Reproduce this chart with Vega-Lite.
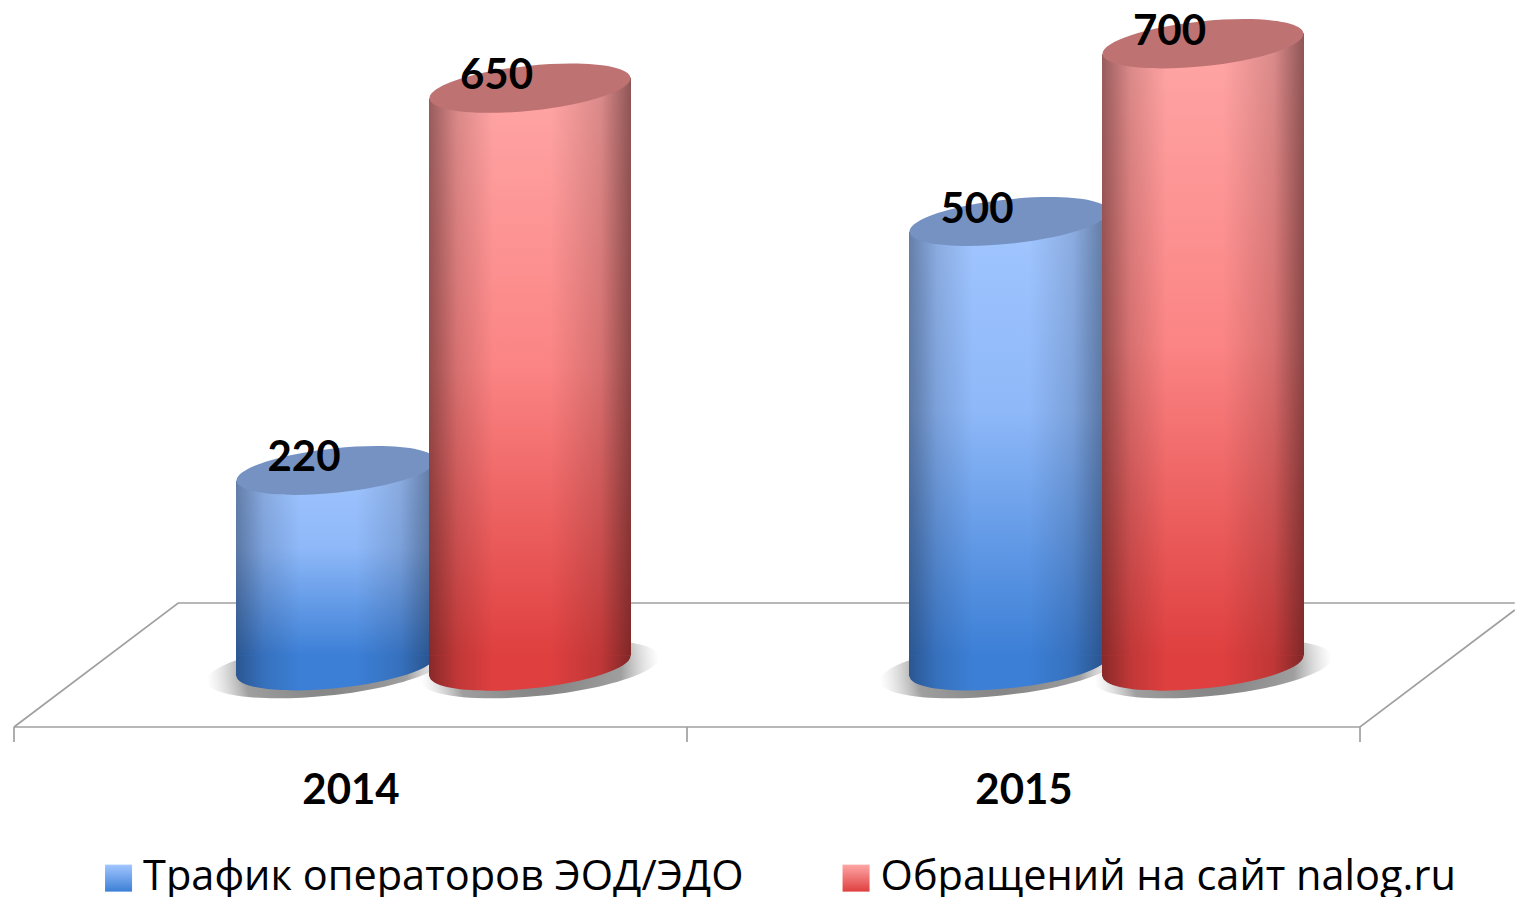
{
"$schema":"https://vega.github.io/schema/vega-lite/v6.json",
"width":1515,"height":897,"padding":0,"autosize":{"type":"none"},"background":"white",
"config":{"view":{"stroke":null}},
"datasets":{
"bars":[
{"year":2014,"series":"Трафик операторов ЭОД/ЭДО","value":220},
{"year":2015,"series":"Трафик операторов ЭОД/ЭДО","value":500},
{"year":2014,"series":"Обращений на сайт nalog.ru","value":650},
{"year":2015,"series":"Обращений на сайт nalog.ru","value":700}],
"floor":[
{"part":"back","x":2013.5,"y":-68.6},{"part":"back","x":2013.744,"y":70.9},{"part":"back","x":2015.73,"y":70.9},
{"part":"front","x":2013.5,"y":-68.6},{"part":"front","x":2015.5,"y":-68.6},{"part":"front","x":2015.73,"y":63},
{"part":"t1","x":2013.5,"y":-68.6},{"part":"t1","x":2013.5,"y":-85.5},
{"part":"t2","x":2014.5,"y":-68.6},{"part":"t2","x":2014.5,"y":-85.5},
{"part":"t3","x":2015.5,"y":-68.6},{"part":"t3","x":2015.5,"y":-85.5}]
},
"data":{"name":"bars"},
"encoding":{
"x":{"field":"year","type":"quantitative","scale":{"domain":[2013.4792,2015.7303],"nice":false,"zero":false,"padding":0},
"axis":{"values":[2014,2015],"format":"d","title":null,"grid":false,"domain":false,"ticks":false,"offset":-127,"labelPadding":0,"labelFont":"Lato","labelFontWeight":"bold","labelFontSize":42,"labelColor":"black","labelFlush":false,"labelOverlap":false}},
"y":{"field":"value","type":"quantitative","stack":null,"scale":{"domain":[-259.8,749.2],"nice":false,"zero":false,"padding":0},"axis":null}
},
"layer":[
{"data":{"name":"floor"},"mark":{"type":"line","color":"#a0a0a0","strokeWidth":1.7},
 "encoding":{"x":{"field":"x","type":"quantitative"},"y":{"field":"y","type":"quantitative"},"detail":{"field":"part"}}},
{"transform":[{"filter":"datum.series == 'Трафик операторов ЭОД/ЭДО'"}],
 "layer":[
 {"mark":{"type":"point","filled":true,"opacity":1,"xOffset":-24.5,"yOffset":3,"size":57600,
  "shape":"M0.9945,-0.1045C1.0073,0.0174,0.5725,0.1631,0.0232,0.2208C-0.5261,0.2785,-0.9817,0.2264,-0.9945,0.1045C-1.0073,-0.0174,-0.5725,-0.1631,-0.0232,-0.2208C0.5261,-0.2785,0.9817,-0.2264,0.9945,-0.1045Z",
  "color":{"gradient":"radial","x1":0.5,"y1":0.5,"r1":0,"x2":0.5,"y2":0.5,"r2":0.5,"stops":[{"offset":0,"color":"rgba(70,70,70,0.7)"},{"offset":0.68,"color":"rgba(80,80,80,0.55)"},{"offset":1,"color":"rgba(160,160,160,0)"}]}},
  "encoding":{"y":{"datum":0}}},
 {"mark":{"type":"point","filled":true,"opacity":1,"xOffset":-14.5,"size":40000,
   "shape":"M0.9945,-0.1045C1.0073,0.0174,0.5725,0.1631,0.0232,0.2208C-0.5261,0.2785,-0.9817,0.2264,-0.9945,0.1045C-1.0073,-0.0174,-0.5725,-0.1631,-0.0232,-0.2208C0.5261,-0.2785,0.9817,-0.2264,0.9945,-0.1045ZM-1,-0.12L0,-0.12L0,0.103L-1,0.103Z",
   "color":{"gradient":"linear","x1":0,"y1":0,"x2":1,"y2":0,"stops":[{"offset":0,"color":"#2b5691"},{"offset":0.14,"color":"#3671bd"},{"offset":0.32,"color":"#3c7fd6"},{"offset":0.6,"color":"#3c7fd6"},{"offset":0.82,"color":"#3671bd"},{"offset":0.965,"color":"#2b5691"}]}},
  "encoding":{"y":{"datum":0}}},
 {"mark":{"type":"bar","orient":"vertical","width":200,"xOffset":-14.5,"yOffset":-10.5,"y2Offset":-10.5,"strokeWidth":0,
   "fill":{"gradient":"linear","x1":0,"y1":0,"x2":0,"y2":1,"stops":[{"offset":0,"color":"#a2c6ff"},{"offset":0.45,"color":"#8eb8f8"},{"offset":1,"color":"#3c7fd6"}]}},
  "encoding":{"y2":{"datum":0},"stroke":{"field":"series","type":"nominal","scale":{"domain":["Трафик операторов ЭОД/ЭДО","Обращений на сайт nalog.ru"],"range":["#74a2ea","#f07070"]},
    "legend":{"title":null,"orient":"none","legendX":97.8,"legendY":857,"padding":0,"direction":"horizontal","columns":2,"columnPadding":91.5,"symbolType":"square","symbolSize":729,"symbolStrokeWidth":0,"symbolOpacity":1,"labelFont":"Open Sans","labelFontSize":41.5,"labelColor":"black","labelOffset":3.8,"labelLimit":800,
    "encoding":{"symbols":{"fill":{
      "condition":{"test":"datum.value == 'Трафик операторов ЭОД/ЭДО'","value":{"gradient":"linear","x1":0,"y1":0,"x2":0,"y2":1,"stops":[{"offset":0,"color":"#a2c6ff"},{"offset":1,"color":"#3c7fd6"}]}},
      "value":{"gradient":"linear","x1":0,"y1":0,"x2":0,"y2":1,"stops":[{"offset":0,"color":"#ffa6a6"},{"offset":1,"color":"#df3f3f"}]}}}}}}}},
 {"mark":{"type":"bar","orient":"vertical","width":200,"xOffset":-14.5,"yOffset":-10.5,"y2Offset":-10.5,
   "color":{"gradient":"linear","x1":0,"y1":0,"x2":1,"y2":0,"stops":[{"offset":0,"color":"rgba(20,30,50,0.42)"},{"offset":0.14,"color":"rgba(20,30,50,0.15)"},{"offset":0.32,"color":"rgba(20,30,50,0)"},{"offset":0.6,"color":"rgba(20,30,50,0)"},{"offset":0.82,"color":"rgba(20,30,50,0.15)"},{"offset":0.965,"color":"rgba(20,30,50,0.42)"}]}},"encoding":{"y2":{"datum":0}}},
 {"mark":{"type":"point","filled":true,"opacity":1,"color":"white","xOffset":-14.5,"size":40000,"shape":"M-1.03,-0.12L0,-0.12L0,0.103L-1.03,0.103Z"},"encoding":{}},
 {"mark":{"type":"point","filled":true,"opacity":1,"color":"#7592c3","xOffset":-14.5,"size":40000,
   "shape":"M0.9945,-0.1045C1.0073,0.0174,0.5725,0.1631,0.0232,0.2208C-0.5261,0.2785,-0.9817,0.2264,-0.9945,0.1045C-1.0073,-0.0174,-0.5725,-0.1631,-0.0232,-0.2208C0.5261,-0.2785,0.9817,-0.2264,0.9945,-0.1045Z"},"encoding":{}}
 ]},
{"transform":[{"filter":"datum.series == 'Обращений на сайт nalog.ru'"}],
 "layer":[
 {"mark":{"type":"point","filled":true,"opacity":1,"xOffset":189.5,"yOffset":3,"size":57600,
  "shape":"M0.9945,-0.1045C1.0073,0.0174,0.5725,0.1631,0.0232,0.2208C-0.5261,0.2785,-0.9817,0.2264,-0.9945,0.1045C-1.0073,-0.0174,-0.5725,-0.1631,-0.0232,-0.2208C0.5261,-0.2785,0.9817,-0.2264,0.9945,-0.1045Z",
  "color":{"gradient":"radial","x1":0.5,"y1":0.5,"r1":0,"x2":0.5,"y2":0.5,"r2":0.5,"stops":[{"offset":0,"color":"rgba(70,70,70,0.7)"},{"offset":0.68,"color":"rgba(80,80,80,0.55)"},{"offset":1,"color":"rgba(160,160,160,0)"}]}},
  "encoding":{"y":{"datum":0}}},
 {"mark":{"type":"point","filled":true,"opacity":1,"xOffset":179.5,"size":40804,
   "shape":"M0.9945,-0.1045C1.0073,0.0174,0.5725,0.1631,0.0232,0.2208C-0.5261,0.2785,-0.9817,0.2264,-0.9945,0.1045C-1.0073,-0.0174,-0.5725,-0.1631,-0.0232,-0.2208C0.5261,-0.2785,0.9817,-0.2264,0.9945,-0.1045ZM-1,-0.12L0,-0.12L0,0.103L-1,0.103Z",
   "color":{"gradient":"linear","x1":0,"y1":0,"x2":1,"y2":0,"stops":[{"offset":0,"color":"#882929"},{"offset":0.14,"color":"#c03737"},{"offset":0.32,"color":"#df3f3f"},{"offset":0.6,"color":"#df3f3f"},{"offset":0.85,"color":"#c03737"},{"offset":1,"color":"#802727"}]}},
  "encoding":{"y":{"datum":0}}},
 {"mark":{"type":"bar","orient":"vertical","width":202,"xOffset":179.5,"yOffset":-10.5,"y2Offset":-10.5,
   "color":{"gradient":"linear","x1":0,"y1":0,"x2":0,"y2":1,"stops":[{"offset":0,"color":"#ffa6a6"},{"offset":0.5,"color":"#fb8484"},{"offset":1,"color":"#df3f3f"}]}},"encoding":{"y2":{"datum":0}}},
 {"mark":{"type":"bar","orient":"vertical","width":202,"xOffset":179.5,"yOffset":-10.5,"y2Offset":-10.5,
   "color":{"gradient":"linear","x1":0,"y1":0,"x2":1,"y2":0,"stops":[{"offset":0,"color":"rgba(50,20,20,0.5)"},{"offset":0.14,"color":"rgba(50,20,20,0.18)"},{"offset":0.32,"color":"rgba(50,20,20,0)"},{"offset":0.6,"color":"rgba(50,20,20,0)"},{"offset":0.85,"color":"rgba(50,20,20,0.18)"},{"offset":1,"color":"rgba(50,20,20,0.55)"}]}},"encoding":{"y2":{"datum":0}}},
 {"mark":{"type":"point","filled":true,"opacity":1,"color":"white","xOffset":179.5,"size":40804,"shape":"M-1.03,-0.12L0,-0.12L0,0.103L-1.03,0.103Z"},"encoding":{}},
 {"mark":{"type":"point","filled":true,"opacity":1,"color":"#bf7272","xOffset":179.5,"size":40804,
   "shape":"M0.9945,-0.1045C1.0073,0.0174,0.5725,0.1631,0.0232,0.2208C-0.5261,0.2785,-0.9817,0.2264,-0.9945,0.1045C-1.0073,-0.0174,-0.5725,-0.1631,-0.0232,-0.2208C0.5261,-0.2785,0.9817,-0.2264,0.9945,-0.1045Z"},"encoding":{}}
 ]},
{"transform":[{"filter":"datum.series == 'Трафик операторов ЭОД/ЭДО'"}],
 "mark":{"type":"text","font":"Lato","fontWeight":"bold","fontSize":42,"color":"black","baseline":"middle","xOffset":-46.5,"yOffset":-12},
 "encoding":{"text":{"field":"value","type":"quantitative"}}},
{"transform":[{"filter":"datum.series == 'Обращений на сайт nalog.ru'"}],
 "mark":{"type":"text","font":"Lato","fontWeight":"bold","fontSize":42,"color":"black","baseline":"middle","xOffset":146,"yOffset":-12},
 "encoding":{"text":{"field":"value","type":"quantitative"}}}
]
}
